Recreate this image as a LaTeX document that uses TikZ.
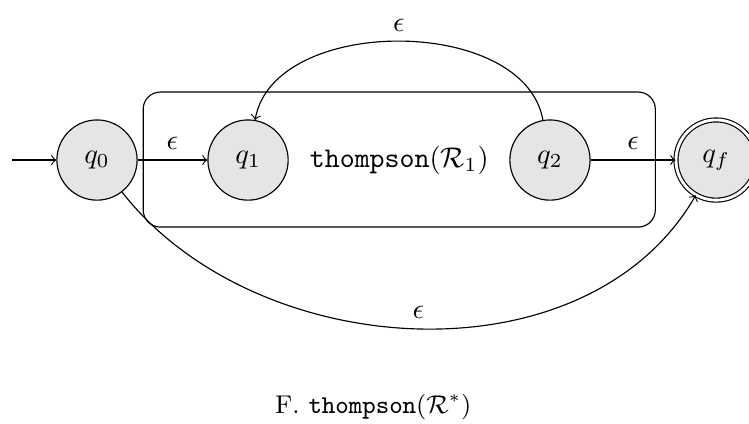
\documentclass[tikz,border=0pt]{standalone}
\usetikzlibrary{calc}

\tikzset{
    qstate/.style={circle, draw, fill=black!10, minimum size=0.99cm, inner sep=0pt},
    qaccept/.style={qstate, double, double distance=1pt},
}

\begin{document}
\begin{tikzpicture}
    \useasboundingbox (-1.197,1.975) rectangle (8.046,-3.246);

    % box for the inner automaton
    \node[draw, rounded corners=6pt, minimum width=6.32cm, minimum height=1.666cm] (inner) at (3.73,0.006) {};
    \node (label) at (3.73,0) {\texttt{thompson}$(\mathcal{R}_1)$};

    % states
    \node[qstate] (q0) at (0,0) {$q_0$};
    \node[qstate] (q1) at (1.864,0) {$q_1$};
    \node[qstate] (q2) at (5.59,0) {$q_2$};
    \node[qaccept] (qf) at (7.64,0) {$q_f$};
    \coordinate (start) at (-1.05,0);

    % epsilon transitions
    \draw[->] (start) -- (q0);
    \draw[->] (q0) -- node[above] {$\epsilon$} (q1);
    \draw[->] (q2) -- node[above] {$\epsilon$} (qf);
    \draw[->] (q2) to[out=100, in=80, looseness=0.95] node[above] {$\epsilon$} (q1);
    \draw[->] (q0) to[out=-52, in=-120, looseness=0.97] node[above] {$\epsilon$} (qf);

    \node[font=\small] (caption) at (3.41,-3.05) {F. \texttt{thompson}$(\mathcal{R}^*)$};
\end{tikzpicture}
\end{document}
